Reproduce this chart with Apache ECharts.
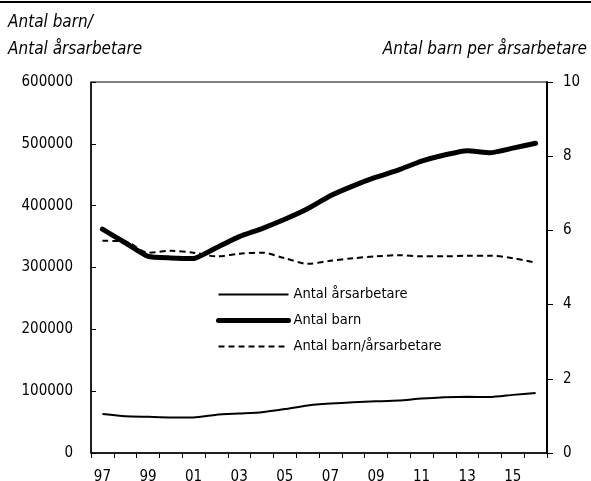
<!DOCTYPE html>
<html>
<head>
<meta charset="utf-8">
<script src="https://cdn.jsdelivr.net/npm/echarts@6/dist/echarts.min.js"></script>
<style>
html,body{margin:0;padding:0;background:#fff;}
#c{width:591px;height:481px;}
</style>
</head>
<body>
<div id="c"></div>
<script>
var years = ['97','98','99','00','01','02','03','04','05','06','07','08','09','10','11','12','13','14','15','16'];
var antalArsarbetare = [63000,59500,58500,57500,57500,62000,64000,66000,71000,77000,80000,82000,83500,85000,88000,90000,91000,90500,94000,97000];
var antalBarn = [362000,340000,318000,315500,314500,332000,350000,363000,378000,395000,416000,432000,446000,458000,472000,482000,489000,485500,493000,501000];
var barnPerArsarbetare = [5.72,5.70,5.40,5.45,5.40,5.30,5.37,5.40,5.25,5.10,5.18,5.25,5.30,5.33,5.30,5.30,5.32,5.32,5.25,5.13];
var leftTicks = [0,100000,200000,300000,400000,500000,600000];
var rightTicks = [0,2,4,6,8,10];
var seriesNames = ['Antal årsarbetare','Antal barn','Antal barn/årsarbetare'];

var FONT = '"DejaVu Sans Condensed","Liberation Sans Narrow","Liberation Sans",sans-serif';
var chart = echarts.init(document.getElementById('c'), null, {renderer:'canvas'});
chart.setOption({
  animation:false,
  backgroundColor:'#fff',
  textStyle:{fontFamily:FONT,color:'#000'},
  grid:{left:91,right:44,top:82,bottom:28,outerBoundsMode:'none',containLabel:false,show:true,borderColor:'#000',borderWidth:1,backgroundColor:'transparent'},
  graphic:[
    {type:'rect',left:0,top:1,shape:{width:591,height:2},style:{fill:'#000'}},
    {type:'text',left:8,top:14,style:{text:'Antal barn/',font:'italic 17px '+FONT,fill:'#000'}},
    {type:'text',left:8,top:41,style:{text:'Antal årsarbetare',font:'italic 17px '+FONT,fill:'#000'}},
    {type:'text',right:4,top:41,style:{text:'Antal barn per årsarbetare',font:'italic 17px '+FONT,fill:'#000'}}
  ],
  legend:{
    orient:'vertical',left:211,top:282,itemWidth:70,itemHeight:14,itemGap:11,
    textStyle:{fontFamily:FONT,fontSize:14.5,color:'#000'},
    itemStyle:{opacity:0},
    data:[
      {name:seriesNames[0],itemStyle:{opacity:0},lineStyle:{width:2,color:'#000'}},
      {name:seriesNames[1],itemStyle:{opacity:0},lineStyle:{width:5,color:'#000',cap:'round'}},
      {name:seriesNames[2],itemStyle:{opacity:0},lineStyle:{width:2,color:'#000',type:[6,4]}}
    ]
  },
  xAxis:{
    type:'category',data:years,boundaryGap:true,
    axisLine:{lineStyle:{color:'#000',width:1.5}},
    axisTick:{show:true,interval:0,length:5,lineStyle:{color:'#000',width:1}},
    axisLabel:{interval:1,color:'#000',fontSize:15,fontFamily:FONT,margin:17},
    splitLine:{show:false}
  },
  yAxis:[
    {type:'value',min:0,max:600000,interval:100000,position:'left',
     axisLine:{show:true,lineStyle:{color:'#000',width:1.5}},
     axisTick:{show:true,inside:true,length:5,lineStyle:{color:'#000'}},
     axisLabel:{color:'#000',fontSize:15,fontFamily:FONT,margin:18,formatter:function(v){return String(v);}},
     splitLine:{show:false}},
    {type:'value',min:0,max:10,interval:2,position:'right',
     axisLine:{show:true,lineStyle:{color:'#000',width:2}},
     axisTick:{show:true,length:6,lineStyle:{color:'#000'}},
     axisLabel:{color:'#000',fontSize:15,fontFamily:FONT,margin:16},
     splitLine:{show:false}}
  ],
  series:[
    {name:seriesNames[0],type:'line',yAxisIndex:0,data:antalArsarbetare,symbol:'none',smooth:0.2,
     lineStyle:{color:'#000',width:2},itemStyle:{color:'#000'}},
    {name:seriesNames[1],type:'line',yAxisIndex:0,data:antalBarn,symbol:'none',smooth:0.15,
     lineStyle:{color:'#000',width:5,cap:'round',join:'round'},itemStyle:{color:'#000'}},
    {name:seriesNames[2],type:'line',yAxisIndex:1,data:barnPerArsarbetare,symbol:'none',smooth:0.3,
     lineStyle:{color:'#000',width:2,type:[6,4]},itemStyle:{color:'#000'}}
  ]
});
</script>
</body>
</html>
